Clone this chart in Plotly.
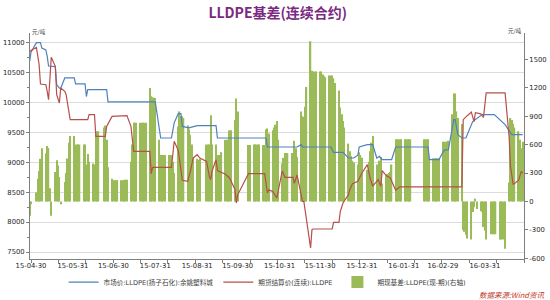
import pandas as pd
import plotly.graph_objects as go

# ---------------- data ----------------
# trading calendar (SHFE/DCE holidays removed)
holidays = ['2015-05-01', '2015-06-22', '2015-09-03', '2015-09-04',
            '2015-10-01', '2015-10-02', '2015-10-05', '2015-10-06', '2015-10-07',
            '2016-01-01', '2016-02-08', '2016-02-09', '2016-02-10', '2016-02-11',
            '2016-02-12', '2016-04-04']
trade_days = pd.bdate_range('2015-04-29', '2016-04-28')
trade_days = trade_days[~trade_days.isin(pd.to_datetime(holidays))]

# 期现基差 (right axis), one value per trading day, grouped by week
basis = [
    -150, -30,
    95, 240, 320, 450, 560,
    506, 584, 565, 140, -150,
    310, 435, 380, 258, -30,
    205, 300, 453, 620, 690,
    690, 600, 600, 600, 600,
    600, 600, 390, 500, 420,
    400, 390, 700, 740, 740,
    780, 800, 650, 360,
    240, 225, 225, 225, 225,
    225, 225, 225, 230, 230,
    420, 600, 830, 830, 830,
    830, 830, 830, 830, 830,
    1196, 1110, 1100, 1095, 1092,
    650, 490, 490, 490, 490,
    490, 490, 490, 420, 300,
    790, 950, 900, 900, 880,
    800, 760, 700, 600, 460,
    450, 440, 450,
    600, 600, 600, 910, 600,
    600, 490, 490, 490, 520,
    650, 650, 650, 750, 750,
    860, 1086, 950,
    596, 596,
    600, 600, 600, 600, 600,
    596, 596, 760, 770, 716,
    750, 780, 810, 850, 650,
    400, 460, 510, 510, 510,
    510, 510, 640, 560, 470,
    950, 900, 890, 1000, 1207,
    1690, 1380, 1370, 1370, 1370,
    1370, 1370, 1340, 1320, 1310,
    1330, 1330, 1330, 1300, 1250,
    1170, 990, 920, 850, 780,
    610, 530, 480, 430, 410,
    390, 520, 490, 460,
    334, 420, 530, 620, 690,
    390, 380, 430, 470, 190,
    270, 290, 300, 310, 390,
    655, 655, 655, 655, 655,
    655, 655, 655, 655, 655,
    655, 655, 655, 655, 455,
    455, 455, 455, 455, 455,
    630, 630, 630, 630, 640,
    920, 1140, 1140, 950, 880,
    816, -300, -320, -350, -390,
    -400, -110, -60, 30, -80,
    -100, -110, -270, -310, -400,
    -345, -345, -345, -345,
    -400, -400, -400, -400, -500,
    200, 880, 860, 820, 780,
    740, 650, 560, 630,
]

# 市场价:LLDPE(扬子石化):余姚塑料城 (left axis)
spot_dates = ['2015-04-29', '2015-04-30', '2015-05-04', '2015-05-07', '2015-05-08', '2015-05-11',
              '2015-05-12', '2015-05-13', '2015-05-18', '2015-05-19', '2015-05-21', '2015-05-22',
              '2015-05-25', '2015-06-01', '2015-06-02', '2015-06-09', '2015-06-10', '2015-06-11',
              '2015-06-25', '2015-06-26', '2015-07-31', '2015-08-03', '2015-08-04', '2015-08-12',
              '2015-08-14', '2015-08-17', '2015-08-19', '2015-08-20', '2015-08-25', '2015-08-31',
              '2015-09-14', '2015-09-15', '2015-10-21', '2015-10-22', '2015-11-13', '2015-11-16',
              '2015-11-17', '2015-12-08', '2015-12-10', '2015-12-17', '2015-12-21', '2015-12-25',
              '2015-12-28', '2015-12-29', '2016-01-04', '2016-01-08', '2016-01-11', '2016-01-13',
              '2016-01-15', '2016-01-22', '2016-01-25', '2016-02-18', '2016-02-19', '2016-02-26',
              '2016-03-01', '2016-03-04', '2016-03-08', '2016-03-09', '2016-03-11', '2016-03-14',
              '2016-03-17', '2016-03-22', '2016-03-29', '2016-04-07', '2016-04-11', '2016-04-15',
              '2016-04-20', '2016-04-28']
spot_vals = [10690, 10840, 11000, 11000, 10910, 10880,
             10770, 10610, 10600, 10300, 10240, 10240,
             10410, 10410, 10310, 10310, 10100, 10215,
             10215, 10010, 10010, 9545, 9406, 9406,
             9660, 9813, 9813, 9600, 9575, 9612,
             9612, 9406, 9406, 9256, 9256, 9295,
             9256, 9256, 9167, 9167, 9072, 9072,
             9120, 9256, 9295, 9295, 9072, 9100,
             9046, 9046, 9256, 9256, 9046, 9046,
             9208, 9208, 9713, 9713, 9462, 9406,
             9406, 9680, 9797, 9797, 9713, 9629,
             9462, 9462]

# 期货结算价(连续):LLDPE (left axis)
fut_dates = ['2015-04-29', '2015-04-30', '2015-05-04', '2015-05-05', '2015-05-06', '2015-05-07',
             '2015-05-11', '2015-05-12', '2015-05-13', '2015-05-15', '2015-05-18', '2015-05-19',
             '2015-05-21', '2015-05-22', '2015-05-25', '2015-05-26', '2015-05-27', '2015-05-28',
             '2015-05-29', '2015-06-11', '2015-06-12', '2015-06-16', '2015-06-17', '2015-06-24',
             '2015-06-25', '2015-06-29', '2015-07-10', '2015-07-13', '2015-07-15', '2015-07-27',
             '2015-07-28', '2015-07-29', '2015-08-12', '2015-08-14', '2015-08-17', '2015-08-18',
             '2015-08-20', '2015-08-24', '2015-08-26', '2015-08-28', '2015-08-31', '2015-09-02',
             '2015-09-07', '2015-09-09', '2015-09-10', '2015-09-11', '2015-09-14', '2015-09-15',
             '2015-09-21', '2015-09-24', '2015-09-28', '2015-09-29', '2015-09-30', '2015-10-08',
             '2015-10-20', '2015-10-22', '2015-10-23', '2015-10-26', '2015-10-29', '2015-11-02',
             '2015-11-04', '2015-11-10', '2015-11-11', '2015-11-13', '2015-11-16', '2015-11-17',
             '2015-11-18', '2015-11-20', '2015-11-23', '2015-11-24', '2015-11-25', '2015-12-09',
             '2015-12-10', '2015-12-14', '2015-12-15', '2015-12-17', '2015-12-21', '2015-12-22',
             '2015-12-24', '2015-12-28', '2015-12-31', '2016-01-04', '2016-01-06', '2016-01-08',
             '2016-01-12', '2016-01-14', '2016-01-15', '2016-01-18', '2016-01-21', '2016-01-25',
             '2016-01-28', '2016-03-14', '2016-03-15', '2016-03-17', '2016-03-21', '2016-03-23',
             '2016-03-24', '2016-03-28', '2016-03-30', '2016-04-01', '2016-04-15', '2016-04-18',
             '2016-04-19', '2016-04-21', '2016-04-25', '2016-04-27', '2016-04-28']
fut_vals = [10849, 10870, 10922, 10772, 10633, 10309,
            10298, 10186, 10047, 10755, 10605, 10131,
            9991, 10242, 10186, 10130, 9991, 9796,
            9712, 9712, 9796, 9796, 9434, 9434,
            9600, 9768, 9780, 9600, 9183, 9183,
            8810, 8916, 8916, 9350, 9200, 9044,
            8700, 8681, 8850, 9071, 9127, 9071,
            9016, 8765, 8710, 8850, 9044, 8860,
            8800, 8738, 8546, 8320, 8456, 8810,
            8810, 8487, 8540, 8510, 8403, 8855,
            8749, 8749, 8649, 8788, 8487, 8348,
            8348, 8049, 7567, 7874, 7885, 7885,
            7997, 7997, 8181, 8320, 8459, 8543,
            8643, 8682, 8821, 8961, 8740, 8600,
            8710, 8599, 8861, 8777, 8738, 8532,
            8590, 8590, 9713, 9760, 9838, 9680,
            9830, 9810, 9750, 10160, 10160, 9420,
            8933, 8626, 8700, 8849, 8820]

# axis labels
x_tick_dates = ['2015-04-30', '2015-05-31', '2015-06-30', '2015-07-31', '2015-08-31', '2015-09-30',
                '2015-10-31', '2015-11-30', '2015-12-31', '2016-01-31', '2016-02-29', '2016-03-31']
x_tick_text = ['15-04-30', '15-05-31', '15-06-30', '15-07-31', '15-08-31', '15-09-30',
               '15-10-31', '15-11-30', '15-12-31', '16-01-31', '16-02-29', '16-03-31']
left_ticks = [7500, 8000, 8500, 9000, 9500, 10000, 10500, 11000]
left_tick_text = ['7500', '8000', '8500', '9000', '9500', '10000', '10500', '11000']
right_ticks = [-600, -300, 0, 300, 600, 900, 1200, 1500]
right_tick_text = ['-600', '-300', '0', '300', '600', '900', '1200', '1500']

# ---------------- styles ----------------
FONT = 'DejaVu Sans, Noto Sans CJK SC, sans-serif'
CJK = 'Noto Sans CJK SC, sans-serif'
AXIS_COL = '#7F7F7F'
TICK_FONT = dict(family=FONT, size=6.8, color='#262626')
DAY_MS = 86400000

fig = go.Figure()
fig.add_trace(go.Bar(
    x=trade_days, y=basis, yaxis='y', name='期现基差:LLDPE(现-期)(右轴)',
    marker=dict(color='#9BBB59', line=dict(width=0)), width=DAY_MS * 0.95,
    legendrank=3))
fig.add_trace(go.Scatter(
    x=pd.to_datetime(spot_dates), y=spot_vals, yaxis='y2', mode='lines',
    name='市场价:LLDPE(扬子石化):余姚塑料城',
    line=dict(color='#4F81BD', width=1.2), legendrank=1))
fig.add_trace(go.Scatter(
    x=pd.to_datetime(fut_dates), y=fut_vals, yaxis='y2', mode='lines',
    name='期货结算价(连续):LLDPE',
    line=dict(color='#B5504B', width=1.2), legendrank=2))

fig.update_layout(
    width=550, height=300,
    margin=dict(l=30, r=26, t=33, b=41, autoexpand=False),
    paper_bgcolor='white', plot_bgcolor='white',
    showlegend=True,
    title=dict(text='<b>LLDPE基差(连续合约)</b>', x=0.505, xanchor='center',
               y=1 - 13 / 300, yanchor='middle', yref='container',
               font=dict(family=CJK, size=14, color='#7A2A82')),
    legend=dict(orientation='h', x=0.48, xanchor='center', y=-0.102, yanchor='middle',
                font=dict(family=FONT, size=6.6, color='#404040'),
                bgcolor='rgba(0,0,0,0)', itemwidth=30, tracegroupgap=0),
    xaxis=dict(type='date', range=['2015-04-29 06:00', '2016-04-29'],
               tickvals=pd.to_datetime(x_tick_dates), ticktext=x_tick_text,
               tickfont=TICK_FONT, ticks='', showgrid=False,
               showline=True, linecolor=AXIS_COL, linewidth=1,
               minor=dict(ticks='outside', ticklen=3, tickcolor=AXIS_COL,
                          tick0='2015-04-30', dtick=365 / 18 * DAY_MS, showgrid=False),
               zeroline=False),
    yaxis=dict(side='right', range=[-607, 1777], tickvals=right_ticks, ticktext=right_tick_text,
               tickfont=TICK_FONT, ticks='outside', ticklen=3, tickcolor=AXIS_COL,
               showline=True, linecolor=AXIS_COL, linewidth=1,
               showgrid=False, zeroline=False),
    yaxis2=dict(overlaying='y', side='left', range=[7383, 11162], tickvals=left_ticks,
                ticktext=left_tick_text,
                tickfont=TICK_FONT, ticks='outside', ticklen=3, tickcolor=AXIS_COL,
                showline=True, linecolor=AXIS_COL, linewidth=1,
                showgrid=True, gridcolor='#DCDCDC', gridwidth=1, zeroline=False,
                minor=dict(ticks='outside', ticklen=2, tickcolor=AXIS_COL, dtick=250,
                           showgrid=False)),
    annotations=[
        dict(text='元/吨', xref='paper', yref='paper', x=0, y=1.004, xanchor='left',
             yanchor='middle', showarrow=False, font=dict(family=CJK, size=5.5, color='#404040')),
        dict(text='元/吨', xref='paper', yref='paper', x=1, y=1.008, xanchor='right',
             yanchor='middle', showarrow=False, font=dict(family=CJK, size=5.5, color='#404040')),
        dict(text='<i>数据来源:Wind资讯</i>', xref='paper', yref='paper', x=1.0445, y=-0.159,
             xanchor='right', yanchor='middle', showarrow=False,
             font=dict(family=CJK, size=7.5, color='#C0392B')),
    ],
)

fig.write_html('out.html')
